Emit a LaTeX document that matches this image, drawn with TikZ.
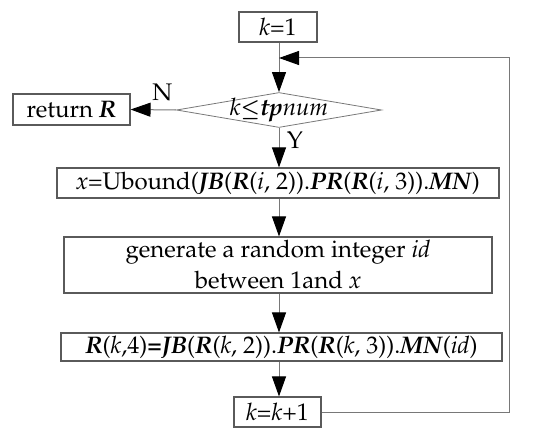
\documentclass[tikz,border=0pt]{standalone}
\usepackage[T1]{fontenc}
\usepackage{mathpazo}
\usepackage{amsmath, amssymb}
\usepackage{bm}
\usepackage{xcolor}
\usepackage{tikz}
\usetikzlibrary{arrows.meta, shapes.geometric}
\definecolor{edgegray}{RGB}{90,90,90}
\definecolor{linegray}{RGB}{120,120,120}
\newcommand{\bi}[1]{\textbf{\textit{#1}}}

\begin{document}
\begin{tikzpicture}[
        x=1pt, y=-1pt,
        font=\fontsize{24}{31}\selectfont,
        box/.style={rectangle, draw=edgegray, line width=1.1pt, inner sep=0pt,
                    align=center},
        dec/.style={diamond, draw=linegray, line width=0.8pt, inner sep=0pt,
                    minimum width=205pt, minimum height=35pt},
        arrow/.style={-{Triangle[width=14pt,length=20pt,color=black]}, draw=linegray,
                      line width=1pt}
      ]
      \useasboundingbox (0,0) rectangle (550,436);
      \node[box, minimum width=78pt, minimum height=30pt] (kone) at (278,27) {\textit{k}=1};
      \node[dec, label={center:\textit{k}\scalebox{0.85}{$\bm{\leq}$}\bi{tp}\textit{num}}] (cond) at (279,110) {};
      \node[box, minimum width=117pt, minimum height=31pt] (ret) at (71.5,109.5) {return \bi{R}};
      \node[box, minimum width=442pt, minimum height=30pt] (ubd) at (278,183)
        {\textit{x}=Ubound(\bi{JB}(\bi{R}(\textit{i}, 2)).\bi{PR}(\bi{R}(\textit{i}, 3)).\bi{MN})};
      \node[box, minimum width=428pt, minimum height=56pt] (gen) at (278,265)
        {generate a random integer \textit{id}\\between 1and \textit{x}};
      \node[box, minimum width=441pt, minimum height=28pt] (asg) at (281.5,347)
        {\bi{R}(\textit{k},4)\textbf{=}\bi{JB}(\bi{R}(\textit{k}, 2)).\bi{PR}(\bi{R}(\textit{k}, 3)).\bi{MN}(\textit{id})};
      \node[box, minimum width=87pt, minimum height=30pt] (inc) at (277.5,412) {\textit{k}=\textit{k}+1};
      \coordinate (back) at (279,58);

      \draw[arrow] (kone.south -| cond.north) -- (cond.north);
      \draw[arrow] (cond.west) -- node[above=5pt, pos=0.3] {N} (ret.east);
      \draw[arrow] (cond.south) -- node[right=4pt, pos=0.3] {Y} (cond.south |- ubd.north);
      \draw[arrow] (ubd.south -| cond.south) -- (gen.north -| cond.south);
      \draw[arrow] (gen.south -| cond.south) -- (asg.north -| cond.south);
      \draw[arrow] (asg.south -| cond.south) -- (inc.north -| cond.south);
      \draw[arrow] (inc.east) -- (509,412) |- (back);
    \end{tikzpicture}
\end{document}
